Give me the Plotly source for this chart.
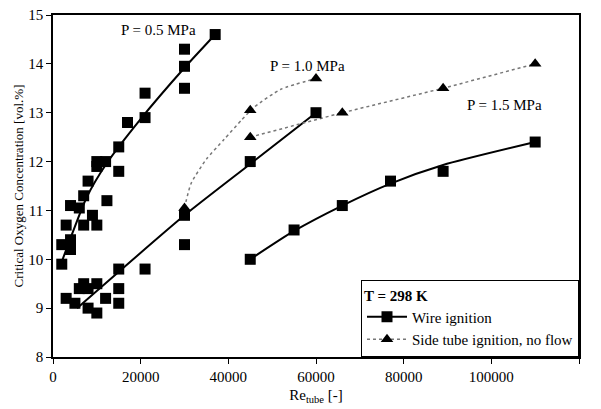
import plotly.graph_objects as go

# ---- data: wire ignition (squares) ----
wire_05_x = [37000, 30000, 30000, 30000, 21000, 21000, 17000, 15000, 10000, 12000, 10000,
             15000, 8000, 7000, 12300, 4000, 6000, 9000, 3000, 7000, 10000, 2000, 4000, 4000, 2000]
wire_05_y = [14.6, 14.3, 13.95, 13.5, 13.4, 12.9, 12.8, 12.3, 12.0, 12.0, 11.9,
             11.8, 11.6, 11.3, 11.2, 11.1, 11.05, 10.9, 10.7, 10.7, 10.7, 10.3, 10.4, 10.2, 9.9]

wire_10_x = [15000, 21000, 7000, 10000, 6000, 8000, 15000, 3000, 12000, 5000, 15000, 8000, 10000,
             30000, 30000, 45000, 60000]
wire_10_y = [9.8, 9.8, 9.5, 9.5, 9.4, 9.4, 9.4, 9.2, 9.2, 9.1, 9.1, 9.0, 8.9,
             10.3, 10.9, 12.0, 13.0]

wire_15_x = [45000, 55000, 66000, 77000, 89000, 110000]
wire_15_y = [10.0, 10.6, 11.1, 11.6, 11.8, 12.4]

# ---- data: side tube ignition, no flow (triangles) ----
side_10_x = [30000, 45000, 60000]
side_10_y = [11.05, 13.05, 13.7]
side_15_x = [45000, 66000, 89000, 110000]
side_15_y = [12.5, 13.0, 13.5, 14.0]

# ---- fitted curves ----
fit_05_x = [2000, 7700, 12300, 19800, 30000, 37000]
fit_05_y = [9.95, 11.27, 11.97, 12.85, 13.92, 14.6]
fit_10_x = [5500, 30000, 45000, 60000]
fit_10_y = [9.0, 10.9, 11.95, 13.0]
fit_15_x = [45000, 55000, 66000, 77000, 89000, 110000]
fit_15_y = [10.0, 10.58, 11.1, 11.55, 11.93, 12.4]
sfit_10_x = [30000, 31500, 35000, 39000, 43000, 46000, 52000, 60000]
sfit_10_y = [11.05, 11.55, 12.05, 12.45, 12.85, 13.12, 13.48, 13.7]

x_ticks = [0, 20000, 40000, 60000, 80000, 100000, 120000]
y_ticks = [8, 9, 10, 11, 12, 13, 14, 15]

FONT = "Liberation Serif"
fig = go.Figure()

# fits
for fx, fy in [(fit_05_x, fit_05_y), (fit_10_x, fit_10_y), (fit_15_x, fit_15_y)]:
    fig.add_trace(go.Scatter(x=fx, y=fy, mode="lines",
                             line=dict(color="black", width=2, shape="spline", smoothing=0.6),
                             showlegend=False, hoverinfo="skip"))
fig.add_trace(go.Scatter(x=sfit_10_x, y=sfit_10_y, mode="lines",
                         line=dict(color="#777777", width=1.5, dash="dot", shape="spline", smoothing=0.6),
                         showlegend=False, hoverinfo="skip"))
fig.add_trace(go.Scatter(x=side_15_x, y=side_15_y, mode="lines",
                         line=dict(color="#777777", width=1.5, dash="dot"),
                         showlegend=False, hoverinfo="skip"))

sq = dict(symbol="square", size=11, color="black")
tri = dict(symbol="triangle-up", size=11, color="black")

fig.add_trace(go.Scatter(x=wire_05_x, y=wire_05_y, mode="markers", marker=sq, showlegend=False))
fig.add_trace(go.Scatter(x=wire_10_x, y=wire_10_y, mode="markers", marker=sq, showlegend=False))
fig.add_trace(go.Scatter(x=wire_15_x, y=wire_15_y, mode="markers", marker=sq, showlegend=False))
fig.add_trace(go.Scatter(x=side_10_x, y=side_10_y, mode="markers", marker=tri, showlegend=False))
fig.add_trace(go.Scatter(x=side_15_x, y=side_15_y, mode="markers", marker=tri, showlegend=False))

# legend entries
fig.add_trace(go.Scatter(x=[None], y=[None], mode="lines+markers", name="Wire ignition",
                         line=dict(color="black", width=2), marker=sq))
fig.add_trace(go.Scatter(x=[None], y=[None], mode="lines+markers", name="Side tube ignition, no flow",
                         line=dict(color="#777777", width=1.5, dash="dot"), marker=tri))

for txt, ax_, ay_ in [("P = 0.5 MPa", 24000, 14.7), ("P = 1.0 MPa", 58000, 13.95),
                      ("P = 1.5 MPa", 103000, 13.15)]:
    fig.add_annotation(x=ax_, y=ay_, text=txt, showarrow=False,
                       font=dict(family=FONT, size=15, color="black"))

fig.update_layout(
    width=601, height=409,
    margin=dict(l=53, r=22, t=15, b=52),
    paper_bgcolor="white", plot_bgcolor="white",
    font=dict(family=FONT, size=14, color="black"),
    legend=dict(x=1, y=0, xanchor="right", yanchor="bottom",
                bordercolor="black", borderwidth=1, bgcolor="white",
                title=dict(text="<b>T = 298 K</b>", font=dict(family=FONT, size=15)),
                font=dict(family=FONT, size=15), tracegroupgap=0, itemwidth=40),
)
fig.update_xaxes(range=[0, 120000], tickvals=x_ticks, ticktext=[str(v) for v in x_ticks],
                 showgrid=False, zeroline=False, showline=True, linecolor="black", linewidth=1.5,
                 mirror=True, ticks="outside", ticklen=5, tickcolor="black", automargin=False,
                 tickfont=dict(family=FONT, size=15),
                 title=dict(text="Re<sub>tube</sub> [-]", font=dict(family=FONT, size=15), standoff=6))
fig.update_yaxes(range=[8, 15], tickvals=y_ticks,
                 showgrid=False, zeroline=False, showline=True, linecolor="black", linewidth=1.5,
                 mirror=True, ticks="outside", ticklen=5, tickcolor="black", automargin=False,
                 tickfont=dict(family=FONT, size=15),
                 title=dict(text="Critical Oxygen Concentration [vol.%]", font=dict(family=FONT, size=13),
                            standoff=2))

fig.write_html("out.html", config={"displayModeBar": False})
with open("out.html", encoding="utf-8") as f:
    html = f.read()
html = html.replace("<head>", "<head><style>html,body{margin:0;padding:0;}</style>", 1)
with open("out.html", "w", encoding="utf-8") as f:
    f.write(html)
